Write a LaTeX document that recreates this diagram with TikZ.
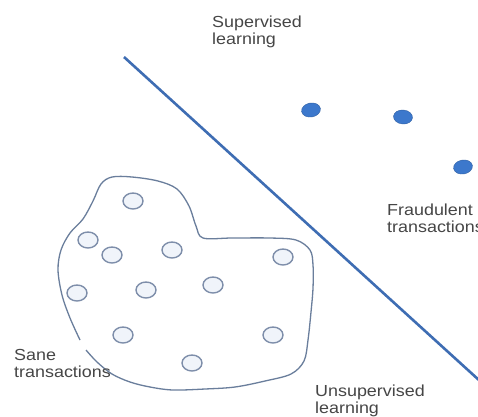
\documentclass[tikz,border=0pt]{standalone}
\usepackage{fontspec}
\newfontfamily\lblfont[FakeStretch=1.12]{Liberation Sans}
\usetikzlibrary{shapes.geometric}
\definecolor{sepblue}{HTML}{3E6DB3}
\definecolor{outl}{HTML}{6A7E9C}
\definecolor{ringc}{HTML}{7E8EAA}
\definecolor{ringfill}{HTML}{F0F4FA}
\definecolor{fraudc}{HTML}{3C78CC}
\definecolor{txtc}{HTML}{464646}
\tikzset{
  lbl/.style={anchor=base west, align=left, text=txtc, inner sep=0pt,
    font=\lblfont\fontsize{16}{17}\selectfont},
  sane/.style={ellipse, draw=ringc, line width=1.4pt, fill=ringfill,
    minimum width=20pt, minimum height=16pt, inner sep=0pt},
  fraud/.style={ellipse, fill=fraudc, draw=fraudc!80!black, line width=0.4pt,
    minimum width=19pt, minimum height=14pt, inner sep=0pt},
  sepline/.style={draw=sepblue, line width=2.6pt},
  cluster/.style={draw=outl, line width=1.3pt}
}
\begin{document}
\begin{tikzpicture}[x=1pt,y=-1pt]
\clip (0,0) rectangle (478,416);
\fill[white] (0,0) rectangle (478,416);
% separating line
\coordinate (ls) at (124,57);
\coordinate (le) at (480,381);
\draw[sepline] (ls) -- (le);
% cluster outline
\draw[cluster] plot[smooth, tension=0.55] coordinates {
 (86,350) (97,362) (112,374) (130,382) (150,387) (173,390) (205,389)
 (235,387) (265,381) (291,374) (304,361) (308,340) (311,312) (313,288)
 (313,265) (310,250) (296,240) (270,238) (232,238) (203,238) (196,226)
 (189,206) (177,189) (158,181) (132,177) (112,177) (101,184) (93,201)
 (83,219) (70,233) (61,250) (58,270) (62,295) (70,318) (80,340)};
% sane transactions
\node[sane] (s1) at (133,201) {};
\node[sane] (s2) at (88,240) {};
\node[sane] (s3) at (112,255) {};
\node[sane] (s4) at (172,250) {};
\node[sane] (s5) at (283,257) {};
\node[sane] (s6) at (77,293) {};
\node[sane] (s7) at (146,290) {};
\node[sane] (s8) at (213,285) {};
\node[sane] (s9) at (123,335) {};
\node[sane] (s10) at (273,335) {};
\node[sane] (s11) at (192,363) {};
% fraudulent transactions
\node[fraud, rotate=10] (f1) at (311,110) {};
\node[fraud, rotate=-5] (f2) at (403,117) {};
\node[fraud, rotate=10] (f3) at (463,167) {};
% labels (base anchor = baseline of the last line)
\node[lbl] (sup) at (212,44) {Supervised\\learning};
\node[lbl] (fra) at (387,232) {Fraudulent\\transactions};
\node[lbl] (san) at (14,377) {Sane\\transactions};
\node[lbl] (uns) at (315,413) {Unsupervised\\learning};
\end{tikzpicture}
\end{document}
